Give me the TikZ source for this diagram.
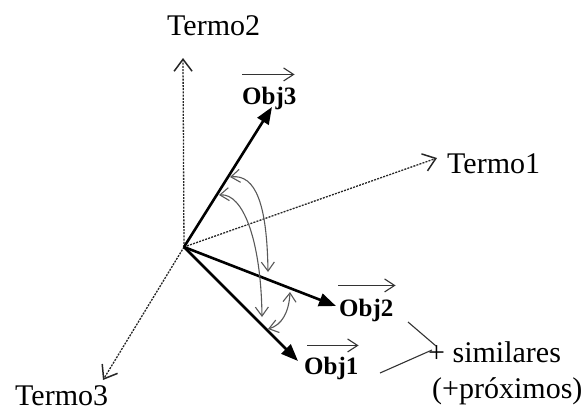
\documentclass[tikz,border=0pt]{standalone}
\usepackage{fontspec}
\setmainfont{Liberation Serif}
\usetikzlibrary{arrows.meta}
\begin{document}
\begin{tikzpicture}[x=1pt,y=-1pt,
  axis/.style={dash pattern=on 2pt off 1.2pt, line width=1.3pt, draw=black!85,
    -{Straight Barb[length=12pt,width=18pt,line width=1.5pt]}},
  vec/.style={line width=2.6pt, -{Triangle[length=17pt,width=13pt]}},
  arcarrow/.style={line width=1.1pt, draw=black!65,
    {Straight Barb[length=9pt,width=13pt]}-{Straight Barb[length=9pt,width=13pt]}},
  term/.style={font=\fontsize{30}{32}\selectfont, inner sep=0pt, anchor=base west},
  obj/.style={font=\bfseries\fontsize{25}{27}\selectfont, inner sep=0pt, anchor=base west},
  over/.style={line width=1.1pt, draw=black!80, -{Straight Barb[length=10pt,width=13pt]}},
  brace/.style={line width=1.1pt, draw=black!80}]
\useasboundingbox (0,0) rectangle (587,410);
% axes and vectors
\coordinate (O) at (184,247);
\coordinate (t2) at (183,58);
\coordinate (t1) at (437,158);
\coordinate (t3) at (103,380);
\coordinate (v3) at (272,107);
\coordinate (v2) at (336,306);
\coordinate (v1) at (298,361);
% labels
\node[term] (T2) at (167,35) {Termo2};
\node[term] (T1) at (447,173) {Termo1};
\node[term] (T3) at (15,405) {Termo3};
\node[obj] (o3) at (242,104) {Obj3};
\node[obj] (o2) at (339,316) {Obj2};
\node[obj] (o1) at (304,374) {Obj1};
\node[term] (sim) at (428,362) {+ similares};
\node[term] (prox) at (432,398) {(+próximos)};
% axes
\draw[axis] (O) -- (t2);
\draw[axis] (O) -- (t1);
\draw[axis] (O) -- (t3);
% vectors
\draw[vec] (O) -- (v3);
\draw[vec] (O) -- (v2);
\draw[vec] (O) -- (v1);
% over-arrows
\draw[over] ([xshift=0pt,yshift=12pt]o3.north west) -- ([xshift=-2pt,yshift=12pt]o3.north east);
\draw[over] ([xshift=-1pt,yshift=13pt]o2.north west) -- ([xshift=2pt,yshift=13pt]o2.north east);
\draw[over] ([xshift=3pt,yshift=11pt]o1.north west) -- ([xshift=0pt,yshift=11pt]o1.north east);
% angle arcs
\coordinate (a1s) at (230,177);
\coordinate (a1e) at (268,272);
\coordinate (a2s) at (219,195);
\coordinate (a2e) at (262,317);
\coordinate (a3s) at (268,329);
\coordinate (a3e) at (290,292);
\draw[arcarrow] (a1s) .. controls (256,174) and (267,205) .. (a1e);
\draw[arcarrow] (a2s) .. controls (243,193) and (261,240) .. (a2e);
\draw[arcarrow] (a3s) .. controls (282,325) and (289,312) .. (a3e);
% brace lines
\coordinate (b1) at (408,322);
\coordinate (b2) at (380,373);
\coordinate (p1) at (436,346);
\coordinate (p2) at (432,350);
\draw[brace] (b1) -- (p1);
\draw[brace] (b2) -- (p2);
\end{tikzpicture}
\end{document}
